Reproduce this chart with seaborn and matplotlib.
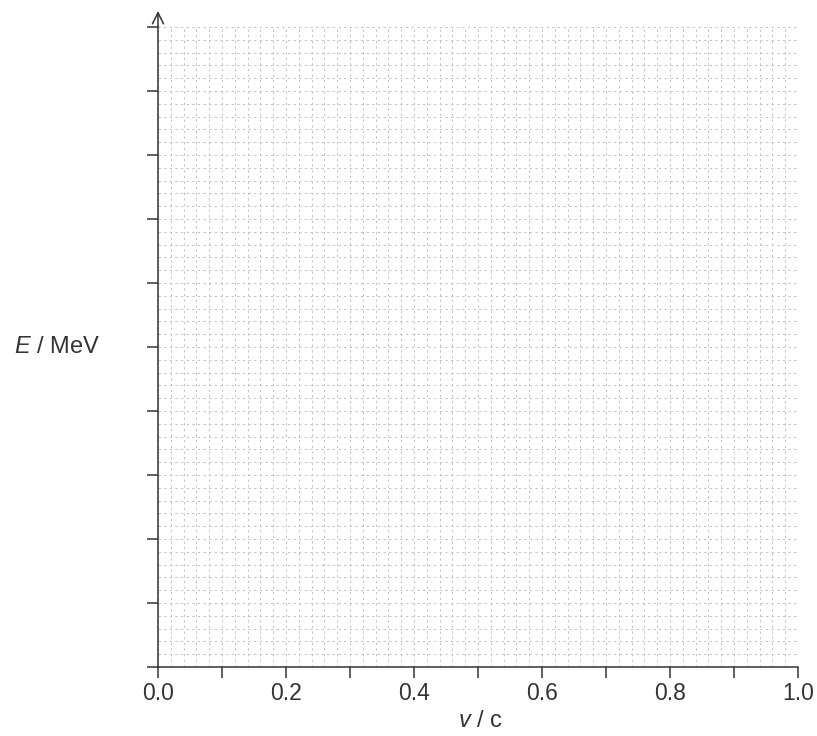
import matplotlib
matplotlib.use("Agg")
import matplotlib.pyplot as plt
import seaborn as sns
import numpy as np

# Data / axis definitions
x_ticks = [0.0, 0.1, 0.2, 0.3, 0.4, 0.5, 0.6, 0.7, 0.8, 0.9, 1.0]
x_tick_labels = ["0.0", "", "0.2", "", "0.4", "", "0.6", "", "0.8", "", "1.0"]
y_ticks = [0, 1, 2, 3, 4, 5, 6, 7, 8, 9, 10]
x_label = "$\\it{v}$ / c"
y_label = "$\\it{E}$ / MeV"

sns.set_style("white")
plt.rcParams['font.family'] = ['Liberation Sans', 'DejaVu Sans']
plt.rcParams['mathtext.fontset'] = 'custom'
plt.rcParams['mathtext.it'] = 'Liberation Sans:italic'
plt.rcParams['mathtext.rm'] = 'Liberation Sans'

W, H = 817, 736
fig = plt.figure(figsize=(W / 100, H / 100), dpi=100)
left, right, top, bottom = 158, 798, 27, 667
ax = fig.add_axes([left / W, (H - bottom) / H, (right - left) / W, (bottom - top) / H])

ax.set_xlim(0, 1)
ax.set_ylim(0, 10)

txt = "#333333"
ax.set_xticks(x_ticks)
ax.set_xticklabels(x_tick_labels, fontsize=16.5, color=txt)
ax.set_yticks(y_ticks)
ax.set_yticklabels([""] * len(y_ticks))
ax.set_xticks(np.linspace(0, 1, 51), minor=True)
ax.set_yticks(np.linspace(0, 10, 51), minor=True)
ax.tick_params(which='major', bottom=True, left=True, direction='out', length=8,
               width=1.1, color=txt, pad=3)
ax.tick_params(which='minor', bottom=False, left=False, length=0)

ax.grid(which='both', linestyle=(0, (2.2, 3.2)), color='#c4c4c4', linewidth=0.75)
ax.set_axisbelow(True)

sns.despine(ax=ax, top=True, right=True)
for s in ['left', 'bottom']:
    ax.spines[s].set_color(txt)
    ax.spines[s].set_linewidth(1.1)

# arrow at top of y axis
ax.annotate("", xy=(0, 1 + 16 / 640), xytext=(0, 1), xycoords='axes fraction',
            arrowprops=dict(arrowstyle='->', color=txt, lw=1.1, mutation_scale=20,
                            shrinkA=0, shrinkB=0), annotation_clip=False)

fig.text(480 / W, 1 - 721 / H, x_label, fontsize=17, color=txt, ha='center', va='center')
fig.text(57 / W, 1 - 347 / H, y_label, fontsize=17, color=txt, ha='center', va='center')

fig.savefig("out.png", dpi=100)
